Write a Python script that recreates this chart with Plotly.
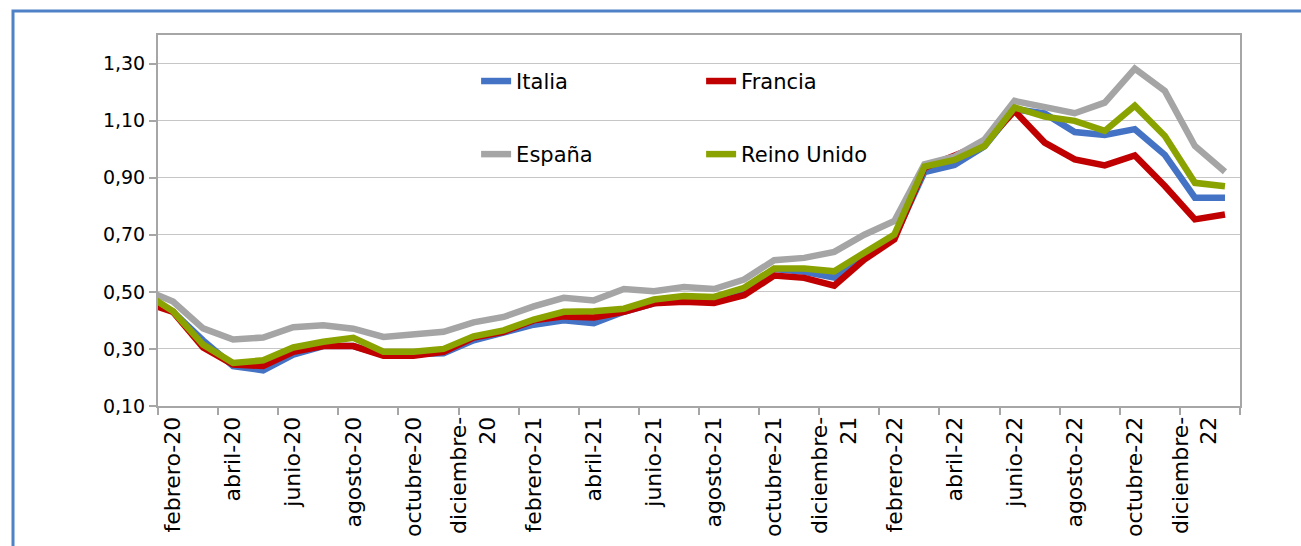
import plotly.graph_objects as go

# Meses: de enero-20 a enero-23 (enero-20 queda justo fuera del eje)
meses = [
    "enero-20", "febrero-20", "marzo-20", "abril-20", "mayo-20", "junio-20",
    "julio-20", "agosto-20", "septiembre-20", "octubre-20", "noviembre-20", "diciembre-20",
    "enero-21", "febrero-21", "marzo-21", "abril-21", "mayo-21", "junio-21",
    "julio-21", "agosto-21", "septiembre-21", "octubre-21", "noviembre-21", "diciembre-21",
    "enero-22", "febrero-22", "marzo-22", "abril-22", "mayo-22", "junio-22",
    "julio-22", "agosto-22", "septiembre-22", "octubre-22", "noviembre-22", "diciembre-22",
    "enero-23",
]

italia = [0.49, 0.43, 0.33, 0.24, 0.225, 0.28, 0.31, 0.31, 0.28, 0.28, 0.285, 0.33,
          0.36, 0.385, 0.40, 0.39, 0.43, 0.46, 0.48, 0.475, 0.51, 0.58, 0.57, 0.55,
          0.62, 0.69, 0.92, 0.945, 1.01, 1.14, 1.125, 1.06, 1.05, 1.07, 0.98, 0.83,
          0.83]
francia = [0.465, 0.43, 0.305, 0.245, 0.24, 0.29, 0.31, 0.31, 0.276, 0.276, 0.29, 0.34,
           0.36, 0.40, 0.414, 0.41, 0.43, 0.46, 0.465, 0.461, 0.488, 0.557, 0.549, 0.522,
           0.613, 0.684, 0.935, 0.98, 1.02, 1.134, 1.023, 0.964, 0.943, 0.978, 0.871, 0.754,
           0.771]
espana = [0.51, 0.466, 0.372, 0.333, 0.34, 0.376, 0.383, 0.371, 0.342, 0.35, 0.36, 0.393,
          0.412, 0.449, 0.479, 0.47, 0.51, 0.502, 0.517, 0.51, 0.543, 0.611, 0.619, 0.64,
          0.70, 0.748, 0.947, 0.974, 1.034, 1.169, 1.146, 1.126, 1.163, 1.282, 1.204, 1.011,
          0.921]
reino_unido = [0.50, 0.432, 0.315, 0.251, 0.26, 0.305, 0.325, 0.339, 0.29, 0.29, 0.30, 0.344,
               0.365, 0.403, 0.43, 0.432, 0.441, 0.473, 0.485, 0.482, 0.514, 0.582, 0.582, 0.572,
               0.637, 0.701, 0.939, 0.962, 1.011, 1.146, 1.114, 1.099, 1.064, 1.152, 1.046, 0.882,
               0.87]

series = [
    ("Italia", italia, "#4472C4", "legend"),
    ("Francia", francia, "#C00000", "legend"),
    ("España", espana, "#A5A5A5", "legend2"),
    ("Reino Unido", reino_unido, "#8BA300", "legend2"),
]

y_ticks = [0.10, 0.30, 0.50, 0.70, 0.90, 1.10, 1.30]

x = list(range(len(meses)))
# Etiqueta cada dos meses, empezando en febrero-20
label_pos = list(range(1, len(meses) - 1, 2))
label_text = [meses[i].replace("diciembre-", "diciembre-<br>") for i in label_pos]

FONT = "DejaVu Sans"
AXIS_GRAY = "#A6A6A6"
GRID_GRAY = "#C6C6C6"

fig = go.Figure()
for name, vals, color, leg in series:
    fig.add_trace(go.Scatter(
        x=x, y=vals, name=name, mode="lines",
        line=dict(color=color, width=6.5),
        legend=leg,
    ))

legend_style = dict(
    orientation="h", x=0.294, xanchor="left", yanchor="middle",
    entrywidth=180, bgcolor="rgba(0,0,0,0)",
    font=dict(family=FONT, size=21, color="#000000"),
)

fig.update_layout(
    width=1301, height=546,
    margin=dict(l=158, r=61, t=35, b=140),
    paper_bgcolor="white", plot_bgcolor="white",
    separators=",.",
    font=dict(family=FONT, size=20, color="#000000"),
    showlegend=True,
    legend=dict(y=0.875, **legend_style),
    legend2=dict(y=0.678, **legend_style),
    xaxis=dict(
        range=[0.5, len(meses) - 0.5], automargin=False,
        tickmode="array", tickvals=label_pos, ticktext=label_text,
        tickangle=-90, ticks="",
        tickfont=dict(family=FONT, size=22, color="#000000"),
        showgrid=False, zeroline=False,
        showline=True, mirror=True, linecolor=AXIS_GRAY, linewidth=2,
        minor=dict(tickmode="linear", tick0=0.5, dtick=2, ticks="outside",
                   ticklen=7, tickwidth=1.5, tickcolor=AXIS_GRAY, showgrid=False),
    ),
    yaxis=dict(
        range=[0.10, 1.40], automargin=False,
        tickmode="array", tickvals=y_ticks, tickformat=".2f",
        ticks="outside", ticklen=7, tickwidth=1.5, tickcolor=AXIS_GRAY,
        tickfont=dict(family=FONT, size=19, color="#000000"),
        showgrid=True, gridcolor=GRID_GRAY, gridwidth=1.3,
        zeroline=False,
        showline=True, mirror=True, linecolor=AXIS_GRAY, linewidth=2,
    ),
)

# Marco azul del gráfico
fig.add_shape(
    type="rect", xref="paper", yref="paper",
    xsizemode="pixel", ysizemode="pixel", xanchor=0, yanchor=1,
    x0=-145, x1=1300, y0=24, y1=-700,
    line=dict(color="#4F81C7", width=3), fillcolor="rgba(0,0,0,0)",
    layer="below",
)

fig.write_html("out.html")
